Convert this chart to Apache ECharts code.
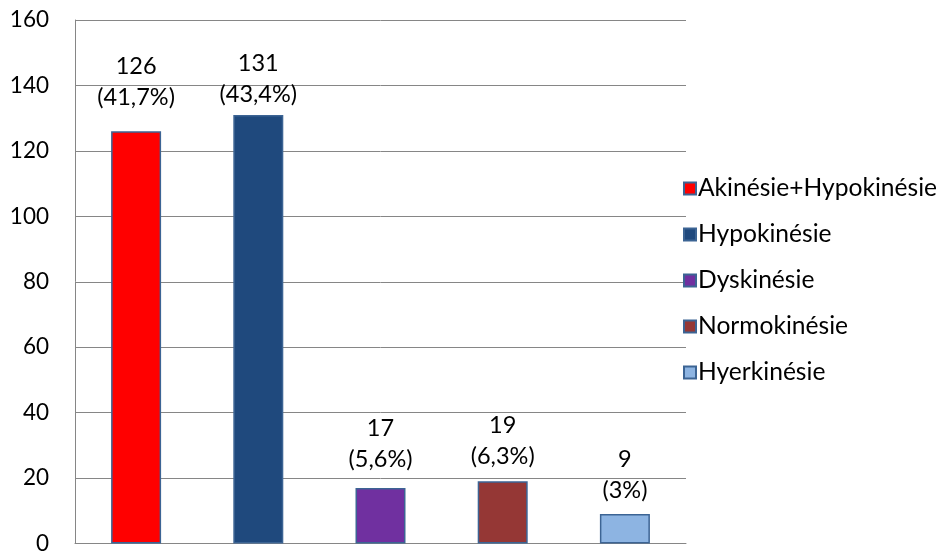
<!DOCTYPE html>
<html>
<head>
<meta charset="utf-8">
<script src="https://cdn.jsdelivr.net/npm/echarts@6/dist/echarts.min.js"></script>
<style>
  html, body { margin: 0; padding: 0; background: #ffffff; }
  #chart { width: 941px; height: 555px; }
</style>
</head>
<body>
<div id="chart"></div>
<script>
// Wall motion categories and patient counts
const categories = ['Akinésie+Hypokinésie', 'Hypokinésie', 'Dyskinésie', 'Normokinésie', 'Hyerkinésie'];
const counts = [126, 131, 17, 19, 9];
const shares = ['41,7%', '43,4%', '5,6%', '6,3%', '3%'];
const colors = ['#FF0000', '#1F497D', '#7030A0', '#953735', '#8DB4E2'];
const labelGaps = [18, 5, 13, 9, 8];
const yTicks = { min: 0, max: 160, interval: 20 };

const font = 'Lato, "Liberation Sans", sans-serif';

const series = categories.map((name, i) => ({
  name: name,
  type: 'bar',
  stack: 'all',
  barWidth: 50,
  data: counts.map((v, j) => (j === i ? v : '-')),
  itemStyle: { color: colors[i], borderColor: '#3C6494', borderWidth: 1.5 },
  label: {
    show: true,
    position: 'top',
    distance: labelGaps[i],
    formatter: (p) => p.value + '\n(' + shares[i] + ')',
    color: '#000000',
    fontFamily: font,
    fontSize: 23.5,
    lineHeight: 31
  }
}));

const chart = echarts.init(document.getElementById('chart'), null, { renderer: 'canvas' });
chart.setOption({
  animation: false,
  backgroundColor: '#ffffff',
  grid: { show: false, borderWidth: 0, left: 75, right: 255, top: 20, bottom: 7, containLabel: false },
  legend: {
    orient: 'vertical',
    left: 683,
    top: 176,
    padding: 0,
    icon: 'rect',
    itemWidth: 12,
    itemHeight: 12,
    itemGap: 21,
    textStyle: { fontFamily: font, fontSize: 24.6, lineHeight: 24, color: '#000000', padding: [0, 0, 0, -3] },
    data: categories
  },
  xAxis: {
    type: 'category',
    data: categories,
    axisLine: { show: true, lineStyle: { color: '#868686', width: 1 } },
    axisTick: { show: false },
    axisLabel: { show: false },
    splitLine: { show: false },
    splitArea: { show: false }
  },
  yAxis: {
    type: 'value',
    min: yTicks.min,
    max: yTicks.max,
    interval: yTicks.interval,
    axisLine: { show: true, lineStyle: { color: '#868686', width: 1 } },
    axisTick: { show: false },
    splitLine: { show: true, lineStyle: { color: '#868686', width: 1 } },
    splitArea: { show: false },
    axisLabel: { fontFamily: font, fontSize: 22.5, color: '#000000', margin: 26 }
  },
  series: series
});
</script>
</body>
</html>
